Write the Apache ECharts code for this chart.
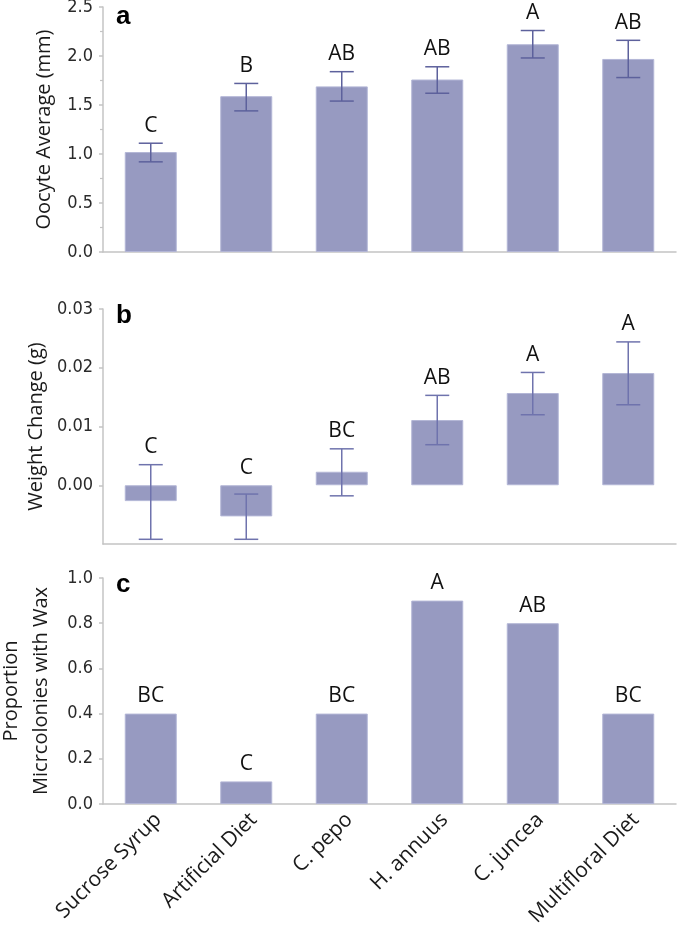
<!DOCTYPE html>
<html><head><meta charset="utf-8">
<script src="https://cdn.jsdelivr.net/npm/echarts@6/dist/echarts.min.js"></script>
<style>html,body{margin:0;padding:0;background:#fff}#c{width:685px;height:929px}</style>
</head><body><div id="c"></div>
<script>
const categories = ['Sucrose Syrup', 'Artificial Diet', 'C. pepo', 'H. annuus', 'C. juncea', 'Multifloral Diet'];
const oocyteMean = [1.02, 1.59, 1.69, 1.76, 2.12, 1.97];
const oocyteLow = [0.92, 1.44, 1.54, 1.62, 1.98, 1.78];
const oocyteHigh = [1.11, 1.72, 1.84, 1.89, 2.26, 2.16];
const oocyteLetters = ['C', 'B', 'AB', 'AB', 'A', 'AB'];
const weightMean = [-0.0027, -0.0053, 0.0023, 0.0111, 0.0157, 0.0191];
const weightLow = [-0.0092, -0.0092, -0.0018, 0.0069, 0.0120, 0.0137];
const weightHigh = [0.0035, -0.0015, 0.0062, 0.0153, 0.0192, 0.0244];
const weightLetters = ['C', 'C', 'BC', 'AB', 'A', 'A'];
const waxProp = [0.4, 0.1, 0.4, 0.9, 0.8, 0.4];
const waxLetters = ['BC', 'C', 'BC', 'A', 'AB', 'BC'];
const oocyteTickValues = [0, 0.5, 1.0, 1.5, 2.0, 2.5];
const weightTickValues = [0, 0.01, 0.02, 0.03];
const waxTickValues = [0, 0.2, 0.4, 0.6, 0.8, 1.0];

const BAR = '#979ac1';
const BAR_BORDER = '#b3b6d6';
const AXIS = '#c4c4c4';
const TICKFONT = '"Liberation Sans Narrow", "DejaVu Sans Condensed", "Open Sans", sans-serif';
const TEXTFONT = '"Open Sans", "Noto Sans", sans-serif';

const chart = echarts.init(document.getElementById('c'), null, {renderer: 'canvas'});

const grids = [
  {left: 103, right: 9, top: 7, height: 245, outerBoundsMode: 'none', containLabel: false},
  {left: 103, right: 9, top: 309, height: 235, outerBoundsMode: 'none', containLabel: false},
  {left: 103, right: 9, top: 578, height: 226, outerBoundsMode: 'none', containLabel: false}
];

function xAxisCfg(idx, showLabels) {
  return {
    type: 'category', gridIndex: idx, data: categories,
    axisLine: {onZero: false, lineStyle: {color: AXIS, width: 1.5}},
    axisTick: {show: false},
    axisLabel: showLabels ? {
      show: true, rotate: 45, interval: 0, margin: 5, fontSize: 21, verticalAlign: 'top',
      fontFamily: TEXTFONT, color: '#1a1a1a', hideOverlap: false
    } : {show: false}
  };
}

function yAxisCfg(idx, opt) {
  return Object.assign({
    type: 'value', gridIndex: idx,
    nameLocation: 'middle', nameGap: 49,
    nameTextStyle: {fontSize: 20, fontFamily: TEXTFONT, color: '#1a1a1a'},
    axisLine: {show: true, lineStyle: {color: AXIS, width: 1.5}},
    axisTick: {show: true, length: 4, lineStyle: {color: AXIS, width: 1.5}},
    splitLine: {show: false}
  }, opt);
}

function tickLabel(values, digits) {
  return {fontSize: 18, fontFamily: TICKFONT, color: '#2a2a2a', margin: 10,
    customValues: values, formatter: v => v.toFixed(digits)};
}

function errSeries(axisIdx, lows, highs, means, letters, color) {
  return {
    type: 'custom', xAxisIndex: axisIdx, yAxisIndex: axisIdx, z: 5,
    data: categories.map((c, i) => [i, lows[i], highs[i], Math.max(highs[i], means[i], 0)]),
    encode: {x: 0, y: [1, 2, 3]},
    renderItem(params, api) {
      const x = api.value(0);
      const lo = api.coord([x, api.value(1)]);
      const hi = api.coord([x, api.value(2)]);
      const top = api.coord([x, api.value(3)]);
      const hw = 12;
      const st = {stroke: color, lineWidth: 1.5};
      return {type: 'group', children: [
        {type: 'line', shape: {x1: lo[0], y1: lo[1], x2: hi[0], y2: hi[1]}, style: st},
        {type: 'line', shape: {x1: lo[0] - hw, y1: lo[1], x2: lo[0] + hw, y2: lo[1]}, style: st},
        {type: 'line', shape: {x1: hi[0] - hw, y1: hi[1], x2: hi[0] + hw, y2: hi[1]}, style: st},
        {type: 'text', style: {text: letters[params.dataIndex], x: top[0], y: top[1] - 7,
          align: 'center', verticalAlign: 'bottom', font: '21px ' + TEXTFONT, fill: '#111'}}
      ]};
    }
  };
}

const option = {
  animation: false,
  backgroundColor: '#fff',
  grid: grids,
  xAxis: [xAxisCfg(0, false), xAxisCfg(1, false), xAxisCfg(2, true)],
  yAxis: [
    yAxisCfg(0, {name: 'Oocyte Average (mm)', min: 0, max: 2.5, interval: 0.5,
      minorTick: {show: true, splitNumber: 2, length: 3, lineStyle: {color: AXIS, width: 1.2}},
      axisLabel: tickLabel(oocyteTickValues, 1)}),
    yAxisCfg(1, {name: 'Weight Change (g)', min: -0.01, max: 0.03, interval: 0.01,
      axisTick: {show: true, length: 4, customValues: weightTickValues, lineStyle: {color: AXIS, width: 1.5}},
      axisLabel: tickLabel(weightTickValues, 2)}),
    yAxisCfg(2, {name: 'Proportion\nMicrcolonies with Wax', min: 0, max: 1.0, interval: 0.2, nameGap: 44,
      nameTextStyle: {fontSize: 20, fontFamily: TEXTFONT, color: '#1a1a1a', lineHeight: 30},
      axisLabel: tickLabel(waxTickValues, 1)})
  ],
  series: [
    {type: 'bar', xAxisIndex: 0, yAxisIndex: 0, data: oocyteMean, barWidth: 52,
      itemStyle: {color: BAR, borderColor: BAR_BORDER, borderWidth: 1}},
    errSeries(0, oocyteLow, oocyteHigh, oocyteMean, oocyteLetters, '#5d619c'),
    {type: 'bar', xAxisIndex: 1, yAxisIndex: 1, data: weightMean, barWidth: 52,
      itemStyle: {color: BAR, borderColor: BAR_BORDER, borderWidth: 1}},
    errSeries(1, weightLow, weightHigh, weightMean, weightLetters, '#6f73ad'),
    {type: 'bar', xAxisIndex: 2, yAxisIndex: 2, data: waxProp, barWidth: 52,
      itemStyle: {color: BAR, borderColor: BAR_BORDER, borderWidth: 1},
      label: {show: true, position: 'top', distance: 7, fontSize: 21, fontFamily: TEXTFONT, color: '#111',
        formatter: p => waxLetters[p.dataIndex]}}
  ],
  graphic: [
    {type: 'text', left: 116, top: 4, style: {text: 'a', font: 'bold 26px "Liberation Sans", Arial, sans-serif', fill: '#000'}},
    {type: 'text', left: 116, top: 303, style: {text: 'b', font: 'bold 26px "Liberation Sans", Arial, sans-serif', fill: '#000'}},
    {type: 'text', left: 116, top: 572, style: {text: 'c', font: 'bold 26px "Liberation Sans", Arial, sans-serif', fill: '#000'}}
  ]
};
chart.setOption(option);
</script>
</body></html>
